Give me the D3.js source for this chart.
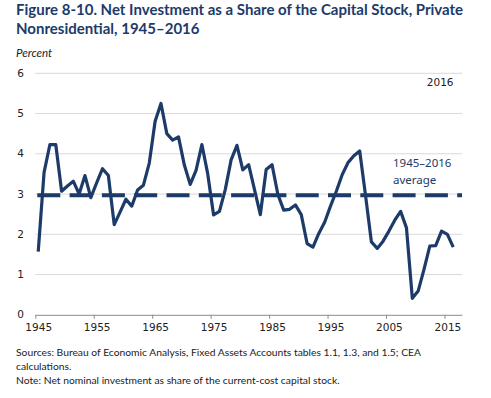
<!DOCTYPE html>
<html>
<head>
<meta charset="utf-8">
<script src="https://cdn.jsdelivr.net/npm/d3@7"></script>
<style>
  body { margin: 0; background: #fff; }
</style>
</head>
<body>
<div id="chart"></div>
<script>
// Data
var years = d3.range(1945, 2017);
var values = [
  1.57, 3.54, 4.23, 4.23, 3.07, 3.20, 3.32, 3.00, 3.46, 2.91,
  3.28, 3.63, 3.46, 2.24, 2.55, 2.87, 2.70, 3.10, 3.22, 3.77,
  4.81, 5.25, 4.50, 4.34, 4.42, 3.72, 3.24, 3.59, 4.23, 3.50,
  2.48, 2.57, 3.11, 3.85, 4.21, 3.60, 3.73, 3.11, 2.49, 3.61,
  3.73, 2.99, 2.60, 2.62, 2.73, 2.49, 1.77, 1.68, 2.02, 2.30,
  2.70, 3.07, 3.48, 3.78, 3.95, 4.07, 2.96, 1.81, 1.65, 1.83,
  2.08, 2.35, 2.57, 2.16, 0.41, 0.59, 1.13, 1.71, 1.72, 2.08,
  2.00, 1.68
];
var average = 2.97;
var xTickYears = [1945, 1955, 1965, 1975, 1985, 1995, 2005, 2015];
var yTicks = [0, 1, 2, 3, 4, 5, 6];

var titleLines = [
  "Figure 8-10. Net Investment as a Share of the Capital Stock, Private",
  "Nonresidential, 1945\u20132016"
];
var noteLines = [
  "Sources: Bureau of Economic Analysis, Fixed Assets Accounts tables 1.1, 1.3, and 1.5; CEA",
  "calculations.",
  "Note: Net nominal investment as share of the current-cost capital stock."
];

var navy = "#1d3b69";
var svgWidth = 491;
var svgHeight = 398;

var svg = d3.select("#chart")
  .append("svg")
  .attr("width", svgWidth)
  .attr("height", svgHeight);

// scales - categories are one year wide, axis runs to an empty 2017 slot
var x = d3.scaleLinear()
  .domain([1944.5, 2017.5])
  .range([35.3, 462]);
var y = d3.scaleLinear()
  .domain([0, 6])
  .range([314.8, 73.3]);

// title
svg.append("g").selectAll("text")
  .data(titleLines)
  .enter()
  .append("text")
  .attr("x", 16)
  .attr("y", (d, i) => 15 + i * 18.5)
  .attr("font-family", "Lato, sans-serif")
  .attr("font-weight", "bold")
  .attr("font-size", "15px")
  .attr("fill", navy)
  .text(d => d);

svg.append("text")
  .attr("x", 16)
  .attr("y", 57)
  .attr("font-family", "Lato, sans-serif")
  .attr("font-style", "italic")
  .attr("font-size", "11.5px")
  .attr("fill", "#222")
  .text("Percent");

// gridlines
svg.append("g").selectAll("line")
  .data(yTicks.filter(d => d > 0))
  .enter()
  .append("line")
  .attr("x1", x.range()[0])
  .attr("x2", x.range()[1])
  .attr("y1", d => y(d))
  .attr("y2", d => y(d))
  .attr("stroke", "#d9d9d9")
  .attr("stroke-width", 1);

// y labels
svg.append("g").selectAll("text")
  .data(yTicks)
  .enter()
  .append("text")
  .attr("x", 24)
  .attr("y", d => y(d))
  .attr("dy", "0.35em")
  .attr("text-anchor", "end")
  .attr("font-family", "DejaVu Sans, sans-serif")
  .attr("font-size", "10.5px")
  .attr("fill", "#222")
  .text(d => d);

// x axis: tick marks on category edges, labels in category centres
var tickAxis = d3.axisBottom(x)
  .tickValues(xTickYears.map(d => d - 0.5))
  .tickSize(4)
  .tickSizeOuter(0)
  .tickFormat("");
var xAxis = svg.append("g")
  .attr("transform", `translate(0, ${y(0)})`)
  .call(tickAxis);
xAxis.selectAll("path, line").attr("stroke", "#8c8c8c");

var labelAxis = d3.axisBottom(x)
  .tickValues(xTickYears)
  .tickSize(0)
  .tickPadding(9)
  .tickFormat(d3.format("d"));
var xLabels = svg.append("g")
  .attr("transform", `translate(0, ${y(0)})`)
  .call(labelAxis);
xLabels.select(".domain").remove();
xLabels.selectAll("text")
  .attr("font-family", "DejaVu Sans, sans-serif")
  .attr("font-size", "10.5px")
  .attr("fill", "#222");

// average line
svg.append("line")
  .attr("x1", 37.3)
  .attr("x2", x.range()[1])
  .attr("y1", y(average))
  .attr("y2", y(average))
  .attr("stroke", navy)
  .attr("stroke-width", 4)
  .attr("stroke-dasharray", "23,9.3");

// series line
var line = d3.line()
  .x((d, i) => x(years[i]))
  .y(d => y(d));
svg.append("path")
  .datum(values)
  .attr("d", line)
  .attr("fill", "none")
  .attr("stroke", navy)
  .attr("stroke-width", 3.2)
  .attr("stroke-linejoin", "round");

// annotations
svg.append("text")
  .attr("x", 453.5)
  .attr("y", 86)
  .attr("text-anchor", "end")
  .attr("font-family", "DejaVu Sans, sans-serif")
  .attr("font-size", "10.5px")
  .attr("fill", "#222")
  .text("2016");

svg.append("g").selectAll("text")
  .data(["1945\u20132016", "average"])
  .enter()
  .append("text")
  .attr("x", 393)
  .attr("y", (d, i) => 166.5 + i * 17)
  .attr("font-family", "Noto Sans, sans-serif")
  .attr("font-size", "11.5px")
  .attr("fill", navy)
  .text(d => d);

// sources and note
svg.append("g").selectAll("text")
  .data(noteLines)
  .enter()
  .append("text")
  .attr("x", 16)
  .attr("y", (d, i) => 355.5 + i * 14)
  .attr("font-family", "Lato, sans-serif")
  .attr("font-size", "10.3px")
  .attr("fill", "#222")
  .text(d => d);
</script>
</body>
</html>
